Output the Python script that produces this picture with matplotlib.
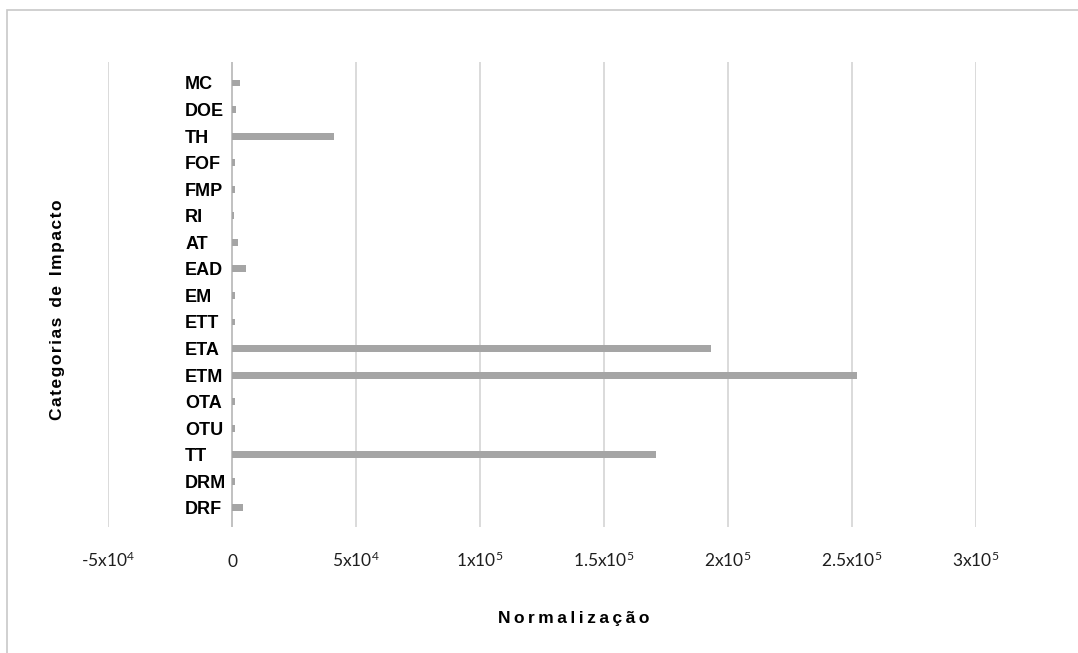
import numpy as np
import matplotlib
matplotlib.use("Agg")
import matplotlib.pyplot as plt
from matplotlib.patches import Rectangle

# categories listed top to bottom as in the chart
categories = ['MC', 'DOE', 'TH', 'FOF', 'FMP', 'RI', 'AT', 'EAD', 'EM', 'ETT',
              'ETA', 'ETM', 'OTA', 'OTU', 'TT', 'DRM', 'DRF']
values = [3100, 1600, 41000, 1400, 1400, 800, 2400, 5700, 1400, 1400,
          193000, 252000, 1400, 1400, 171000, 1400, 4400]
xticks = [-5e4, 0, 5e4, 1e5, 1.5e5, 2e5, 2.5e5, 3e5]
xtick_labels = ['-5x10$^{4}$', '0', '5x10$^{4}$', '1x10$^{5}$', '1.5x10$^{5}$',
                '2x10$^{5}$', '2.5x10$^{5}$', '3x10$^{5}$']

plt.rcParams['mathtext.fontset'] = 'custom'
plt.rcParams['mathtext.rm'] = 'Lato'
plt.rcParams['mathtext.it'] = 'Lato:italic'
plt.rcParams['mathtext.default'] = 'regular'

sans = ['Liberation Sans', 'DejaVu Sans']

fig = plt.figure(figsize=(10.78, 6.53), dpi=100)
ax = fig.add_axes([108/1078, 1 - 527/653, 868/1078, 465/653])

# outer frame of the chart object
fig.patches.append(Rectangle((7/1078, -0.05), 1.1, 1 - 10/653 + 0.05,
                             transform=fig.transFigure, fill=False,
                             edgecolor='#c8c8c8', linewidth=1.2))

y = np.arange(len(categories))[::-1]
ax.barh(y, values, height=0.26, color='#a5a5a5', zorder=3)

ax.set_xlim(-5e4, 3e5)
ax.set_ylim(-0.72, 16.79)
ax.set_xticks(xticks)
ax.set_xticklabels(xtick_labels, family=['Lato', 'DejaVu Sans'], fontsize=12.5,
                   color='#1e1e1e')
ax.tick_params(axis='x', length=0, pad=28.5)
for lab in ax.get_xticklabels():
    lab.set_verticalalignment('baseline')
ax.grid(axis='x', color='#d4d4d4', linewidth=1.2, zorder=0)
ax.axvline(0, color='#bdbdbd', linewidth=1.2, zorder=2)

# category names sit left-aligned just left of the zero line
ax.set_yticks(y)
ax.set_yticklabels(categories, family=sans, fontweight='bold', fontsize=13)
ax.tick_params(axis='y', length=0, pad=-55.5)
for lab in ax.get_yticklabels():
    lab.set_horizontalalignment('left')

for s in ax.spines.values():
    s.set_visible(False)

ax.set_xlabel('N\u2009o\u2009r\u2009m\u2009a\u2009l\u2009i\u2009z\u2009a\u2009ç\u2009ã\u2009o',
              family=sans, fontweight='bold', fontsize=12.5)
ax.xaxis.set_label_coords(0.537, -0.181)
ax.set_ylabel('C\u200aa\u200at\u200ae\u200ag\u200ao\u200ar\u200ai\u200aa\u200as\u2009 \u200ad\u200ae\u2009 \u200aI\u200am\u200ap\u200aa\u200ac\u200at\u200ao',
              family=sans, fontweight='bold', fontsize=12.5)
ax.yaxis.set_label_coords(-0.050, 0.468)

plt.savefig('out.png', dpi=100)
